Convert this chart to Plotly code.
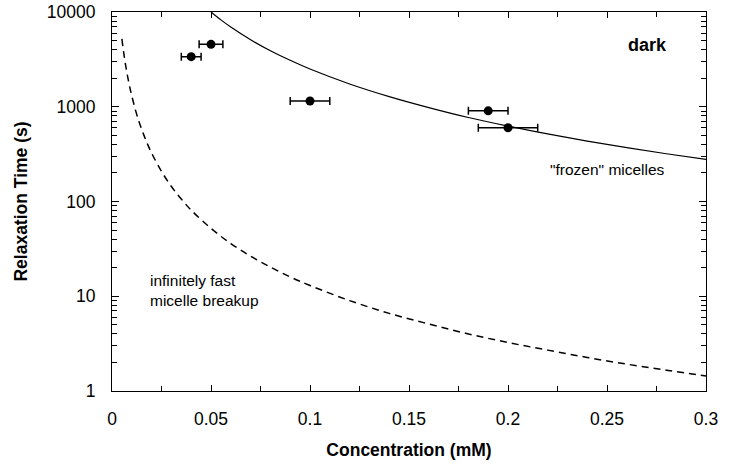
import plotly.graph_objects as go

# Measured data points
conc = [0.04, 0.05, 0.10, 0.19, 0.20]
tau = [3380, 4560, 1150, 905, 600]
conc_err = [0.005, 0.006, 0.010, 0.010, 0.015]

# "frozen" micelles curve
frozen_c = [0.05, 0.055, 0.06, 0.07, 0.08, 0.09, 0.10, 0.12, 0.14, 0.16, 0.18,
            0.20, 0.22, 0.24, 0.26, 0.28, 0.30]
frozen_t = [10000, 8260, 6940, 5100, 3900, 3090, 2500, 1740, 1280, 980, 770,
            625, 517, 434, 370, 319, 278]

# infinitely fast micelle breakup curve
fast_c = [0.005, 0.006, 0.007, 0.008, 0.009, 0.010, 0.012, 0.014, 0.016, 0.018,
          0.020, 0.025, 0.030, 0.035, 0.040, 0.050, 0.060, 0.070, 0.080, 0.090,
          0.10, 0.12, 0.14, 0.16, 0.18, 0.20, 0.22, 0.24, 0.26, 0.28, 0.30]
fast_t = [5200, 3610, 2650, 2030, 1600, 1300, 900, 663, 508, 401,
          325, 208, 144, 106, 81, 52, 36, 26.5, 20.3, 16,
          13, 9.0, 6.6, 5.1, 4.0, 3.25, 2.7, 2.26, 1.92, 1.66, 1.44]

x_ticks = [0, 0.05, 0.1, 0.15, 0.2, 0.25, 0.3]
x_ticktext = ["0", "0.05", "0.1", "0.15", "0.2", "0.25", "0.3"]
y_ticks = [1, 10, 100, 1000, 10000]
y_ticktext = ["1", "10", "100", "1000", "10000"]

FONT = "Liberation Sans, Arial, sans-serif"

fig = go.Figure()
fig.add_trace(go.Scatter(x=frozen_c, y=frozen_t, mode="lines",
                         line=dict(color="black", width=1.2, shape="spline"),
                         showlegend=False, hoverinfo="skip"))
fig.add_trace(go.Scatter(x=fast_c, y=fast_t, mode="lines",
                         line=dict(color="black", width=1.5, dash="7px,5px", shape="spline"),
                         showlegend=False, hoverinfo="skip"))
fig.add_trace(go.Scatter(x=conc, y=tau, mode="markers",
                         marker=dict(color="black", size=9),
                         error_x=dict(type="data", array=conc_err, color="black",
                                      thickness=1.5, width=4),
                         showlegend=False))

fig.add_annotation(x=0.0183, y=1.066, xref="x", yref="y", yanchor="middle",
                   xanchor="left", align="left", showarrow=False,
                   text="infinitely fast<br>micelle breakup",
                   font=dict(family=FONT, size=15.5, color="black"))
fig.add_annotation(x=0.2505, y=2.343, xref="x", yref="y", showarrow=False,
                   text="\"frozen\" micelles",
                   font=dict(family=FONT, size=15.5, color="black"))
fig.add_annotation(x=0.2702, y=3.652, xref="x", yref="y", showarrow=False,
                   text="<b>dark</b>",
                   font=dict(family=FONT, size=18, color="black"))

fig.update_layout(
    width=745, height=467,
    margin=dict(l=112, r=39, t=12, b=76),
    paper_bgcolor="white", plot_bgcolor="white",
    font=dict(family=FONT, color="black"),
    xaxis=dict(range=[0, 0.3], tickvals=x_ticks, ticktext=x_ticktext,
               automargin=False,
               ticks="inside", ticklen=6, tickwidth=1, tickcolor="black",
               showline=True, linecolor="black", linewidth=1, mirror="ticks",
               showgrid=False, zeroline=False,
               tickfont=dict(family=FONT, size=17.5),
               ticklabelstandoff=12,
               minor=dict(ticks="inside", ticklen=5, tickcolor="black", dtick=0.025,
                          showgrid=False),
               title=dict(text="<b>Concentration (mM)</b>", standoff=15,
                          font=dict(family=FONT, size=17.5))),
    yaxis=dict(type="log", range=[0, 4], tickvals=y_ticks, ticktext=y_ticktext,
               automargin=False,
               ticks="inside", ticklen=7, tickwidth=1, tickcolor="black",
               showline=True, linecolor="black", linewidth=1, mirror="ticks",
               showgrid=False, zeroline=False,
               tickfont=dict(family=FONT, size=17.5),
               ticklabelstandoff=12,
               minor=dict(ticks="inside", ticklen=5, tickcolor="black", dtick="D1",
                          showgrid=False),
               title=dict(text="<b>Relaxation Time (s)</b>", standoff=14,
                          font=dict(family=FONT, size=17.5))),
)

fig.write_html("out.html",
               config={"displayModeBar": False},
               post_script="document.body.style.margin='0';document.body.style.overflow='hidden';")
